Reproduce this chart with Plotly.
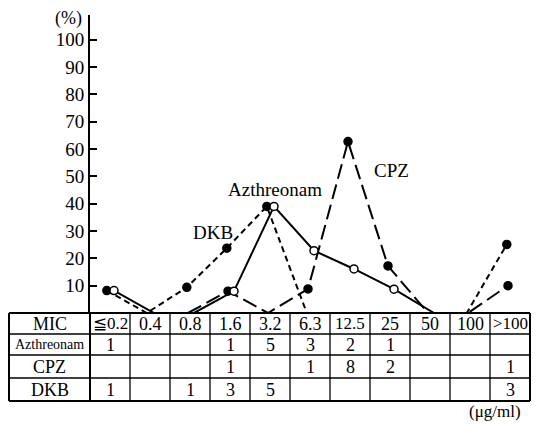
import numpy as np
import plotly.graph_objects as go

# MIC categories (µg/ml)
categories = ["≦0.2", "0.4", "0.8", "1.6", "3.2", "6.3", "12.5", "25", "50", "100", ">100"]

# cumulative distribution curves (% of strains at each MIC)
aztreonam_pct = [8.2, 0, 0, 8.0, 39.0, 22.8, 16.1, 8.7, 0, None, None]
cpz_pct = [None, None, 0, 8.0, 0, 8.8, 62.7, 17.2, 0, 0, 10.0]
dkb_pct = [8.2, 0, 9.4, 23.7, 39.0, 0, 0, 0, 0, 0, 25.1]

# number of strains at each MIC
row_labels = ["Azthreonam", "CPZ", "DKB"]
aztreonam_n = [1, None, None, 1, 5, 3, 2, 1, None, None, None]
cpz_n = [None, None, None, 1, None, 1, 8, 2, None, None, 1]
dkb_n = [1, None, 1, 3, 5, None, None, None, None, None, 3]

y_ticks = [10, 20, 30, 40, 50, 60, 70, 80, 90, 100]

FONT = "Liberation Serif"
W, H = 542, 425
L, R, T, B = 90, 12, 15, 112
plot_w, plot_h = W - L - R, H - T - B
ncat = len(categories)

idx = np.arange(ncat)

fig = go.Figure()


def add_series(values, offset, dash, open_marker, msize):
    x = idx + offset
    fig.add_trace(go.Scatter(
        x=x, y=values, mode="lines", connectgaps=False,
        line=dict(color="black", width=2, dash=dash),
        showlegend=False, hoverinfo="skip"))
    mx = [xi for xi, v in zip(x, values) if v]
    my = [v for v in values if v]
    fig.add_trace(go.Scatter(
        x=mx, y=my, mode="markers",
        marker=dict(size=msize, color="white" if open_marker else "black",
                    line=dict(color="black", width=1.5)),
        showlegend=False, cliponaxis=False))


add_series(dkb_pct, -0.08, "6px,4px", False, 8)
add_series(cpz_pct, -0.05, "15px,6px", False, 8)
add_series(aztreonam_pct, 0.1, "solid", True, 8)


def label(text, x, y, size, xref="paper", yref="paper"):
    fig.add_annotation(x=x, y=y, xref=xref, yref=yref, text=text, showarrow=False,
                       xanchor="center", yanchor="middle",
                       font=dict(family=FONT, size=size, color="black"))


# series names on the chart
for text, xv, yv in [("Azthreonam", 4.125, 45), ("DKB", 2.575, 29.6), ("CPZ", 7.03, 52.3)]:
    label(text, xv, yv, 19, "x", "y")


# ---- MIC table under the plot ----
def py_to_paper(py):
    return (H - B - py) / plot_h


def px_to_paper(px):
    return (px - L) / plot_w


row_edges_px = [H - B, 334, 355, 378, 401]
row_edges = [py_to_paper(v) for v in row_edges_px]
left_edge = px_to_paper(9)
shapes = []
# horizontal rules
for k, yv in enumerate(row_edges):
    outer = k in (0, len(row_edges) - 1)
    shapes.append(dict(type="line", xref="paper", yref="paper", x0=left_edge, x1=1,
                       y0=yv, y1=yv, line=dict(color="black", width=2 if outer else 1.3)))
# vertical rules
vlines = [left_edge] + [i / ncat for i in range(ncat + 1)]
for k, xv in enumerate(vlines):
    outer = k in (0, len(vlines) - 1) or k == 1
    shapes.append(dict(type="line", xref="paper", yref="paper", x0=xv, x1=xv,
                       y0=row_edges[0], y1=row_edges[-1],
                       line=dict(color="black", width=2 if outer else 1.3)))
fig.update_layout(shapes=shapes)

row_centers = [(row_edges[k] + row_edges[k + 1]) / 2 for k in range(4)]
label_x = (left_edge + 0) / 2
label("MIC", label_x, row_centers[0], 18)
for r, lab in enumerate(row_labels):
    label(lab, label_x, row_centers[r + 1], 14 if lab == "Azthreonam" else 18)

for i, cat in enumerate(categories):
    xc = (i + 0.5) / ncat
    label(cat, xc, row_centers[0], 18 if len(cat) < 4 else 17)
    for r, counts in enumerate([aztreonam_n, cpz_n, dkb_n]):
        if counts[i] is not None:
            label(str(counts[i]), xc, row_centers[r + 1], 18)

# axis unit labels
label("(%)", px_to_paper(68), py_to_paper(18), 18)
label("(μg/ml)", px_to_paper(495), py_to_paper(411), 17)

fig.update_xaxes(range=[-0.5, ncat - 0.5], visible=False, showgrid=False, zeroline=False)
fig.update_yaxes(range=[0, 109], tickvals=y_ticks, ticks="inside", ticklen=7, tickwidth=1.5,
                 tickcolor="black", showline=True, linecolor="black", linewidth=2,
                 showgrid=False, zeroline=False,
                 tickfont=dict(family=FONT, size=19, color="black"))
fig.update_layout(width=W, height=H, margin=dict(l=L, r=R, t=T, b=B),
                  plot_bgcolor="white", paper_bgcolor="white")

fig.write_html("out.html")
